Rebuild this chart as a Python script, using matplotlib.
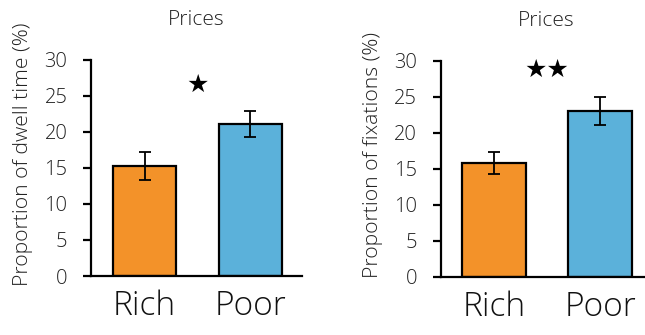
import numpy as np
import matplotlib as mpl
mpl.use('Agg')
import matplotlib.pyplot as plt

groups = ['Rich', 'Poor']
dwellMeans = [15.25, 21.1]
dwellErrs = [1.95, 1.85]
fixMeans = [15.8, 23.05]
fixErrs = [1.5, 1.95]
yTicks = [0, 5, 10, 15, 20, 25, 30]
panelTitle = 'Prices'
dwellLabel = 'Proportion of dwell time (%)'
fixLabel = 'Proportion of fixations (%)'
dwellStars = '★'
fixStars = '★★'
dwellStarY = 26.5
fixStarY = 28.8

barColors = ['#F39229', '#5BB1DA']
textColor = '#222222'

plt.rcParams['font.family'] = ['Open Sans', 'DejaVu Sans']

def drawPanel(ax, means, errs, ylabel, stars, starY):
	x = np.arange(len(groups))
	ax.bar(x, means, width=0.6, color=barColors, edgecolor='black', linewidth=1.6, zorder=2)
	ax.errorbar(x, means, yerr=errs, fmt='none', ecolor='black', elinewidth=1.3, capsize=4.5, capthick=1.3, zorder=3)
	ax.set_xlim(-0.505, 1.486)
	ax.set_ylim(0, 30)
	ax.set_yticks(yTicks)
	ax.set_yticklabels([str(t) for t in yTicks], fontsize=14.5, color=textColor, fontweight='light')
	ax.set_xticks(x)
	ax.set_xticklabels(groups, fontsize=24, color='#111111', fontweight='light')
	ax.tick_params(axis='x', length=0, pad=10)
	ax.tick_params(axis='y', length=6, width=1.6, pad=11, direction='out')
	for side in ['top', 'right']:
		ax.spines[side].set_visible(False)
	for side in ['left', 'bottom']:
		ax.spines[side].set_linewidth(1.6)
	# label sits a little above the middle of the axis
	ax.set_ylabel(ylabel, fontsize=15.2, color=textColor, labelpad=8, fontweight='light', y=0.565, ha='center')
	ax.set_title(panelTitle, fontsize=15, color=textColor, pad=25, fontweight='light')
	# significance stars between the two bars
	ax.text(0.5, starY, stars, ha='center', va='center', fontsize=18,
		family=['DejaVu Sans'], fontweight='normal', color='black')

fig = plt.figure(figsize=(6.45, 3.35), dpi=100)
axLeft = fig.add_axes([0.1411, 0.1761, 0.327, 0.645])
axRight = fig.add_axes([0.6833, 0.1740, 0.327, 0.644])

drawPanel(axLeft, dwellMeans, dwellErrs, dwellLabel, dwellStars, dwellStarY)
drawPanel(axRight, fixMeans, fixErrs, fixLabel, fixStars, fixStarY)

plt.savefig('out.png', dpi=100)
